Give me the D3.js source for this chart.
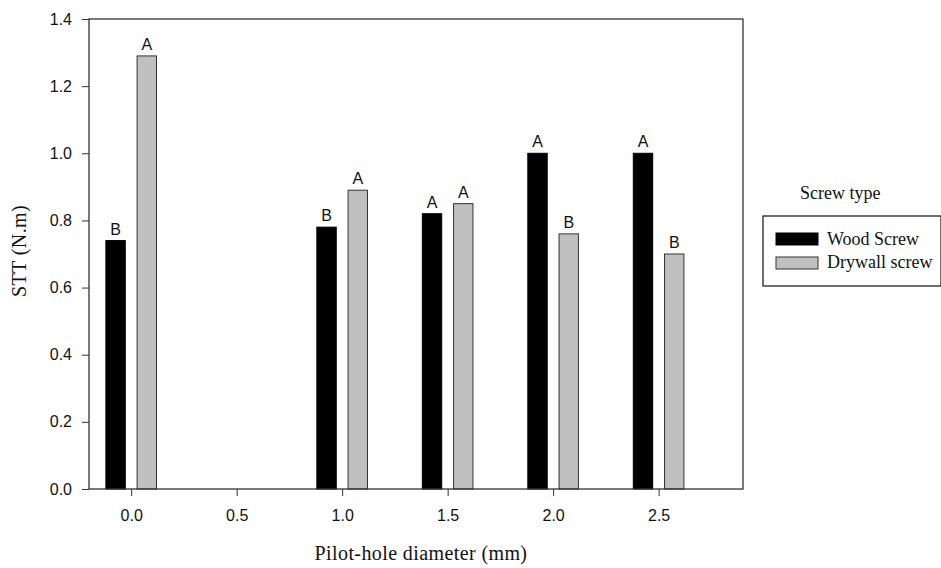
<!DOCTYPE html>
<html>
<head>
<meta charset="utf-8">
<script src="https://cdn.jsdelivr.net/npm/d3@7"></script>
<style>
  body { margin: 0; background: #fff; }
  .axis text { font-family: "Liberation Sans", Arial, sans-serif; font-size: 16px; fill: #111; }
  .axis path, .axis line { stroke: #333; }
  .title { font-family: "Liberation Serif", "Times New Roman", serif; font-size: 20px; fill: #111; }
  .legend-text { font-family: "Liberation Serif", "Times New Roman", serif; font-size: 18px; fill: #111; }
  .letter { font-family: "Liberation Sans", Arial, sans-serif; font-size: 16px; fill: #111; }
</style>
</head>
<body>
<div id="chart"></div>
<script>
// data
const diameters = [0.0, 1.0, 1.5, 2.0, 2.5];
const woodScrew = [0.74, 0.78, 0.82, 1.00, 1.00];
const drywallScrew = [1.29, 0.89, 0.85, 0.76, 0.70];
const woodLetters = ["B", "B", "A", "A", "A"];
const drywallLetters = ["A", "A", "A", "B", "B"];
const xTicks = [0.0, 0.5, 1.0, 1.5, 2.0, 2.5];
const yTicks = [0.0, 0.2, 0.4, 0.6, 0.8, 1.0, 1.2, 1.4];
const seriesNames = ["Wood Screw", "Drywall screw"];

const svgWidth = 941, svgHeight = 568,
    margin = { top: 19, right: 198, bottom: 79, left: 89 },
    width = svgWidth - margin.left - margin.right,
    height = svgHeight - margin.top - margin.bottom;

const svg = d3.select("#chart").append("svg")
    .attr("width", svgWidth)
    .attr("height", svgHeight);

const g = svg.append("g")
    .attr("transform", `translate(${margin.left},${margin.top})`);

// scales
const xScale = d3.scaleLinear().domain([-0.2, 2.9]).range([0, width]);
const yScale = d3.scaleLinear().domain([0, 1.4]).range([height, 0]);

const barW = 0.092, offset = 0.074;

const series = [
    { name: seriesNames[0], values: woodScrew, letters: woodLetters, shift: -offset, fill: "#000", stroke: "#000" },
    { name: seriesNames[1], values: drywallScrew, letters: drywallLetters, shift: offset, fill: "#c0c0c0", stroke: "#333" }
];

// bars + significance letters
series.forEach(function (s) {
    const rows = diameters.map((d, i) => ({ x: d, v: s.values[i], l: s.letters[i] }));
    g.selectAll(null)
        .data(rows)
        .join("rect")
        .attr("x", (d) => xScale(d.x + s.shift - barW / 2))
        .attr("width", xScale(barW) - xScale(0))
        .attr("y", (d) => yScale(d.v))
        .attr("height", (d) => yScale(0) - yScale(d.v))
        .attr("fill", s.fill)
        .attr("stroke", s.stroke)
        .attr("stroke-width", 1);
    g.selectAll(null)
        .data(rows)
        .join("text")
        .attr("class", "letter")
        .attr("text-anchor", "middle")
        .attr("x", (d) => xScale(d.x + s.shift))
        .attr("y", (d) => yScale(d.v) - 6)
        .text((d) => d.l);
});

// frame
g.append("rect")
    .attr("width", width)
    .attr("height", height)
    .attr("fill", "none")
    .attr("stroke", "#333")
    .attr("stroke-width", 1.3);

// axes
g.append("g")
    .attr("class", "axis")
    .attr("transform", `translate(0,${height})`)
    .call(d3.axisBottom(xScale).tickValues(xTicks).tickFormat(d3.format(".1f")).tickSizeOuter(0).tickSizeInner(7).tickPadding(14))
    .call((a) => a.select(".domain").remove());

g.append("g")
    .attr("class", "axis")
    .call(d3.axisLeft(yScale).tickValues(yTicks).tickFormat(d3.format(".1f")).tickSizeOuter(0).tickSizeInner(7).tickPadding(10))
    .call((a) => a.select(".domain").remove());

// axis titles
svg.append("text")
    .attr("class", "title")
    .attr("text-anchor", "middle")
    .attr("letter-spacing", "0.4px")
    .attr("x", 421)
    .attr("y", 560)
    .text("Pilot-hole diameter (mm)");

svg.append("text")
    .attr("class", "title")
    .attr("text-anchor", "middle")
    .attr("letter-spacing", "0.4px")
    .attr("transform", "translate(26, 251) rotate(-90)")
    .text("STT (N.m)");

// legend
svg.append("text")
    .attr("class", "legend-text")
    .attr("font-size", "17px")
    .attr("x", 800)
    .attr("y", 199)
    .text("Screw type");
const legend = svg.append("g").attr("transform", "translate(763,216)");
legend.append("rect")
    .attr("width", 178)
    .attr("height", 70)
    .attr("fill", "#fff")
    .attr("stroke", "#222")
    .attr("stroke-width", 1.3);
series.forEach(function (s, i) {
    legend.append("rect")
        .attr("x", 13)
        .attr("y", 17 + i * 24)
        .attr("width", 42)
        .attr("height", 12)
        .attr("fill", s.fill)
        .attr("stroke", s.stroke);
    legend.append("text")
        .attr("class", "legend-text")
        .attr("x", 64)
        .attr("y", 29 + i * 23)
        .text(s.name);
});
</script>
</body>
</html>
